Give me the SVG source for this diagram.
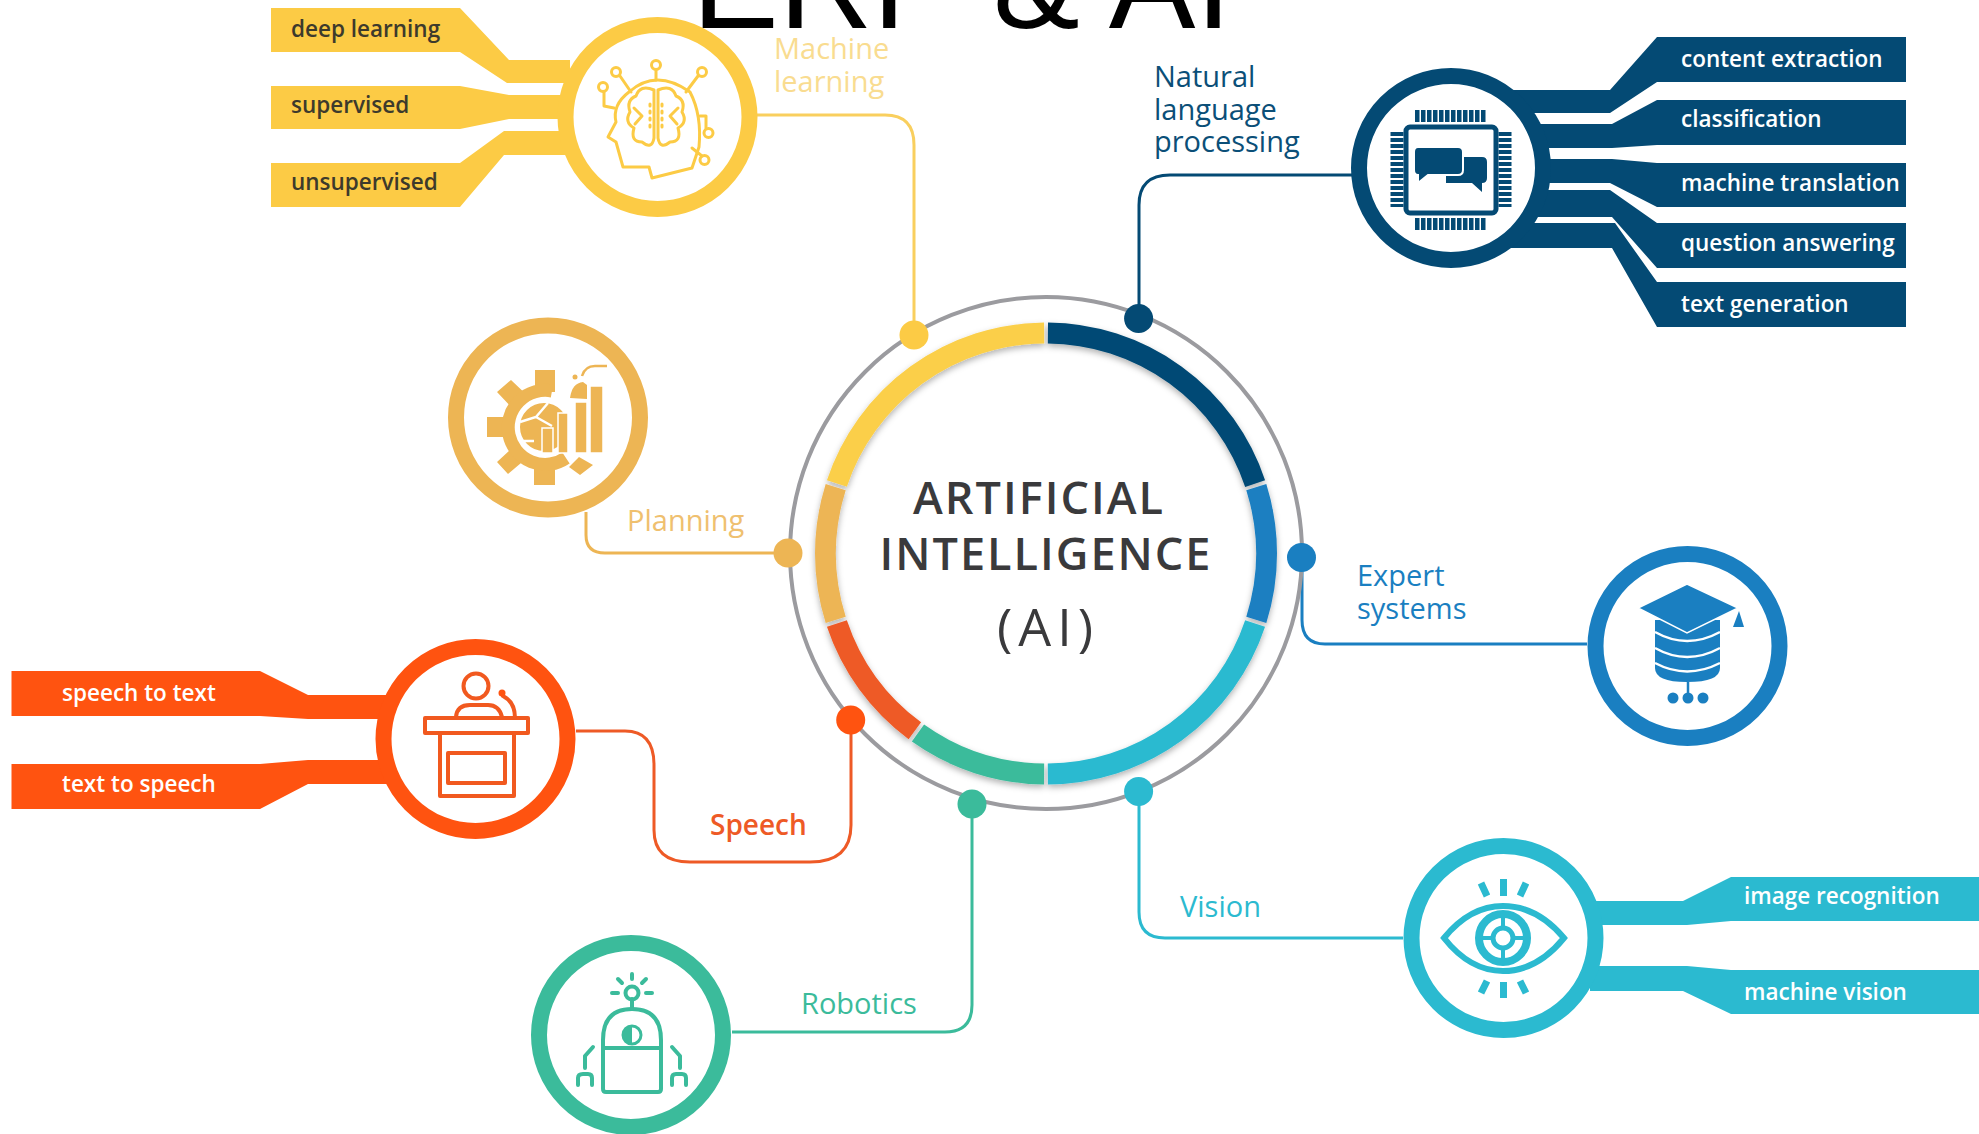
<svg xmlns="http://www.w3.org/2000/svg" width="1979" height="1134" viewBox="0 0 1979 1134">
<style>
text{font-family:"Open Sans","Liberation Sans",sans-serif}
.lbl{font-size:29px;font-weight:500}
.band{font-size:22.500px;font-weight:600;fill:#fff}
.dark{fill:#3d3a2c}
.conn{fill:none;stroke-width:3}
.ring{fill:#fff;stroke-width:16}
.seg{fill:none;stroke-width:21}
.ln{fill:none;stroke-linejoin:round;stroke-linecap:round}
.big{font-size:45px;font-weight:600;letter-spacing:2px;fill:#3a3a3c}
.y{fill:#fccb45}.n{fill:#044a74}.o{fill:#ff5310}.t{fill:#2bbad0}.g{fill:#3bbb9b}.b{fill:#1a7fc1}.p{fill:#edb554}
</style>
<defs>
<filter id="sh" x="-10%" y="-10%" width="120%" height="120%"><feDropShadow dx="0" dy="3" stdDeviation="3" flood-color="#000" flood-opacity=".3"/></filter>
</defs>
<rect width="1979" height="1134" fill="#fff"/>
<g id="connectors">
<path class="conn" stroke="#f9cf5e" d="M757 115H885Q914 115 914 145V335"/>
<path class="conn" stroke="#044a74" d="M1352 175H1170Q1139 175 1139 205V319"/>
<path class="conn" stroke="#edb554" d="M586 512V535Q586 553 605 553H788"/>
<path class="conn" stroke="#1a7fc1" d="M1587 644H1325Q1302 644 1302 620V557"/>
<path class="conn" stroke="#ee5a26" d="M576 731H625Q654 731 654 765V830Q654 862 690 862H810Q851 862 851 825V720"/>
<path class="conn" stroke="#3bbb9b" d="M732 1032H945Q972 1032 972 1005V804"/>
<path class="conn" stroke="#2bbad0" d="M1403 938H1165Q1139 938 1139 912V791"/>
</g>
<g id="center">
<circle cx="1046" cy="553" r="256" fill="none" stroke="#9b9b9f" stroke-width="4"/>
<g filter="url(#sh)">
<circle class="seg" cx="1046" cy="553.500" r="220.500" pathLength="360" stroke="#044a74" stroke-dasharray="71 289" transform="rotate(-89.500 1046 553.500)"/>
<circle class="seg" cx="1046" cy="553.500" r="220.500" pathLength="360" stroke="#1a7fc1" stroke-dasharray="35 325" transform="rotate(-17.500 1046 553.500)"/>
<circle class="seg" cx="1046" cy="553.500" r="220.500" pathLength="360" stroke="#2bbad0" stroke-dasharray="71 289" transform="rotate(18.500 1046 553.500)"/>
<circle class="seg" cx="1046" cy="553.500" r="220.500" pathLength="360" stroke="#3bbb9b" stroke-dasharray="35 325" transform="rotate(90.500 1046 553.500)"/>
<circle class="seg" cx="1046" cy="553.500" r="220.500" pathLength="360" stroke="#ee5a26" stroke-dasharray="35 325" transform="rotate(126.500 1046 553.500)"/>
<circle class="seg" cx="1046" cy="553.500" r="220.500" pathLength="360" stroke="#edb554" stroke-dasharray="35 325" transform="rotate(162.500 1046 553.500)"/>
<circle class="seg" cx="1046" cy="553.500" r="220.500" pathLength="360" stroke="#fbcf4a" stroke-dasharray="71 289" transform="rotate(198.500 1046 553.500)"/>
</g>
<text class="big" x="1039" y="514" text-anchor="middle">ARTIFICIAL</text>
<text class="big" x="1046" y="570" text-anchor="middle">INTELLIGENCE</text>
<text x="1048" y="646" text-anchor="middle" font-size="52" font-weight="400" letter-spacing="6" fill="#3a3a3c">(AI)</text>
<circle class="y" cx="914" cy="335" r="14.500"/>
<circle class="n" cx="1138.600" cy="318.600" r="14.500"/>
<circle class="p" cx="788" cy="553" r="14.500"/>
<circle class="b" cx="1301.500" cy="557.500" r="14.500"/>
<circle class="o" cx="850.700" cy="720" r="14.500"/>
<circle class="g" cx="972" cy="804" r="14.500"/>
<circle class="t" cx="1138.600" cy="791.400" r="14.500"/>
</g>
<g id="node-machine-learning">
<path class="y" d="M271 8H460L509 60H570V83H507L460 52H271Z"/>
<path class="y" d="M271 86H460L509 95H570V119H509L460 129H271Z"/>
<path class="y" d="M271 163H460L504 131H570V155H504L460 207H271Z"/>
<circle class="ring" cx="657.500" cy="117" r="92" stroke="#fccb45"/>
<g class="ln" stroke="#fccb45" stroke-width="3">
<path d="M629 92Q656 68 690 92Q702 115 699 147L692 168L652 178L649 167H623L616 142L608 137L616 122Q612 105 629 92"/>
<path d="M654 90Q640 84 636 96Q626 100 630 112Q624 122 634 128Q630 142 642 142Q652 150 654 138ZM658 90Q672 84 676 96Q686 100 682 112Q688 122 678 128Q682 142 670 142Q660 150 658 138Z"/>
<path d="M634 108L642 116L635 124M678 108L670 116L677 124"/>
<path d="M650 104V132M662 104V132" stroke-dasharray="2 5"/>
<path d="M656 70V80M620 76L631 92M698 76L686 92M604 92V106L614 108M700 116H706V128M692 148L702 156"/>
<circle cx="616" cy="72" r="4.500"/><circle cx="656" cy="65" r="4.500"/><circle cx="702" cy="72" r="4.500"/><circle cx="603" cy="87" r="4.500"/><circle cx="708.500" cy="133" r="4.500"/><circle cx="704.500" cy="160" r="4.500"/>
</g>
<text class="band dark" x="291" y="37">deep learning</text>
<text class="band dark" x="291" y="113">supervised</text>
<text class="band dark" x="291" y="190">unsupervised</text>
<text class="lbl" x="774" y="59" fill="#f9dc90">Machine</text>
<text class="lbl" x="774" y="92" fill="#f9dc90">learning</text>
</g>
<g id="node-nlp">
<path class="n" d="M1906 37H1657L1610 90H1500V113H1610L1657 82H1906Z"/>
<path class="n" d="M1906 100H1657L1612 124H1520V148H1612L1657 145H1906Z"/>
<path class="n" d="M1906 163H1657L1612 159H1520V183H1610L1657 207H1906Z"/>
<path class="n" d="M1906 223H1657L1610 190H1520V217H1612L1657 268H1906Z"/>
<path class="n" d="M1906 282H1657L1615 223H1500V248H1612L1657 327H1906Z"/>
<circle class="ring" cx="1451" cy="168" r="92" stroke="#044a74"/>
<rect x="1406" y="127" width="90" height="86" rx="4" fill="#fff" stroke="#044a74" stroke-width="5"/>
<path d="M1415 116H1487M1415 224H1487" stroke="#044a74" stroke-width="12" stroke-dasharray="4.500 1.500" fill="none"/>
<path d="M1397 132V207M1505 132V207" stroke="#044a74" stroke-width="13" stroke-dasharray="4 2" fill="none"/>
<path class="n" d="M1446 157H1482Q1487 157 1487 162V178Q1487 183 1482 183V192L1472 183H1446Z"/>
<path class="n" d="M1418 147H1458Q1463 147 1463 152V170Q1463 175 1458 175H1428L1418 183V175Q1414 175 1414 170V152Q1414 147 1418 147Z" stroke="#fff" stroke-width="2"/>
<text class="band" x="1681" y="67">content extraction</text>
<text class="band" x="1681" y="127">classification</text>
<text class="band" x="1681" y="191">machine translation</text>
<text class="band" x="1681" y="251">question answering</text>
<text class="band" x="1681" y="312">text generation</text>
<text class="lbl" x="1154" y="87" fill="#0b4f78">Natural</text>
<text class="lbl" x="1154" y="120" fill="#0b4f78">language</text>
<text class="lbl" x="1154" y="152" fill="#0b4f78">processing</text>
</g>
<g id="node-planning">
<circle class="ring" cx="548" cy="417.500" r="92" stroke="#edb554"/>
<path class="p" d="M535 370H555V392H535ZM487 417H508V437H487ZM497 392L511 380L530 398L516 412ZM497 462L510 450L521 463L508 474ZM534 468H555V485H534ZM569 467L579 457L593 465L580 475Z"/>
<path fill="none" stroke="#edb554" stroke-width="13" d="M552 391A37 37 0 1 0 566 458"/>
<circle cx="544" cy="427" r="25.500" fill="#edb554" stroke="#fff" stroke-width="3"/>
<path d="M520 422L536 417L548 403M521 441H534M536 417L552 426" fill="none" stroke="#fff" stroke-width="2.500"/>
<path class="p" d="M542 428H553V453H542ZM558 413H568V453H558ZM575 402H587V453H575ZM590 386H603V453H590Z" stroke="#fff" stroke-width="1.500"/>
<path class="p" d="M570 398Q572 383 583 382L587 385V399Z"/>
<circle class="p" cx="575" cy="377" r="2.500"/>
<path d="M582 376Q585 366 595 366H607" fill="none" stroke="#edb554" stroke-width="2.500"/>
<text class="lbl" x="627" y="531" fill="#efc06f">Planning</text>
</g>
<g id="node-expert-systems">
<circle class="ring" cx="1687.500" cy="646" r="92" stroke="#1a7fc1"/>
<path class="b" d="M1655 620H1720V668Q1720 682 1687 682Q1655 682 1655 668Z"/>
<path d="M1655 632Q1687 650 1720 632M1655 648Q1687 666 1720 648M1655 663Q1687 680 1720 663" fill="none" stroke="#fff" stroke-width="2.500"/>
<path class="b" d="M1638 608L1687 584L1738 608L1687 633Z" stroke="#fff" stroke-width="1.500"/>
<path class="b" d="M1733 627H1744L1739 611Z"/>
<path d="M1688 682V698" stroke="#1a7fc1" stroke-width="2.500"/>
<circle class="b" cx="1673" cy="698" r="5.500"/><circle class="b" cx="1688" cy="698" r="5.500"/><circle class="b" cx="1703" cy="698" r="5.500"/>
<text class="lbl" x="1357" y="586" fill="#1a7fc1">Expert</text>
<text class="lbl" x="1357" y="619" fill="#1a7fc1">systems</text>
</g>
<g id="node-speech">
<path class="o" d="M11.500 671H260L308 695H390V719H308L260 716H11.500Z"/>
<path class="o" d="M11.500 764H260L308 760H390V784H308L260 809H11.500Z"/>
<circle class="ring" cx="475.500" cy="739" r="92" stroke="#ff5310"/>
<g class="ln" stroke="#f1591f" stroke-width="4">
<circle cx="476" cy="686" r="12.500"/>
<path d="M456 717Q457 705 470 705H488Q499 705 502 717"/>
<rect x="425" y="718" width="103" height="15"/>
<rect x="440" y="733" width="74" height="63"/>
<rect x="448" y="753" width="57" height="30"/>
<path d="M503 696Q515 702 515 718"/>
</g>
<circle class="o" cx="502" cy="693" r="3.500"/>
<text class="band" x="62" y="701">speech to text</text>
<text class="band" x="62" y="792">text to speech</text>
<text class="lbl" x="710" y="835" style="font-size:28px;font-weight:600" fill="#ee5a26">Speech</text>
</g>
<g id="node-robotics">
<circle class="ring" cx="631" cy="1035" r="92" stroke="#3bbb9b"/>
<g class="ln" stroke="#3bbb9b" stroke-width="4">
<circle cx="632" cy="993" r="6.500"/>
<path d="M632 999V1009M632 974V979M618 979L622 983M646 979L642 983M612 993H618M646 993H652"/>
<path d="M603 1089V1040Q603 1009 632 1009Q661 1009 661 1040V1089Q661 1092 658 1092H606Q603 1092 603 1089ZM603 1048H661"/>
<circle cx="632" cy="1035" r="9" stroke-width="3"/>
<path d="M593 1047L585 1056V1068M672 1047L680 1056V1068"/>
<path d="M578 1085V1078Q578 1074 583 1074H588Q592 1074 592 1078V1085M672 1085V1078Q672 1074 676 1074H682Q686 1074 686 1078V1085"/>
</g>
<path class="g" d="M632 1026A9 9 0 0 0 632 1044Z"/>
<text class="lbl" x="801" y="1014" fill="#3bbb9b">Robotics</text>
</g>
<g id="node-vision">
<path class="t" d="M1979 877H1731L1683 901H1590V925H1687L1731 921H1979Z"/>
<path class="t" d="M1979 970H1731L1687 966H1590V991H1683L1731 1014H1979Z"/>
<circle class="ring" cx="1503.500" cy="938" r="92" stroke="#2bbad0"/>
<path d="M1444 938Q1470 906 1503 906Q1537 906 1564 938Q1537 971 1503 971Q1470 971 1444 938Z" fill="none" stroke="#2bbad0" stroke-width="6"/>
<circle cx="1503" cy="938" r="24" fill="#fff" stroke="#2bbad0" stroke-width="8"/>
<circle cx="1503" cy="938" r="10" fill="#fff" stroke="#2bbad0" stroke-width="5"/>
<path d="M1503 913V928M1503 948V963M1478 938H1493M1513 938H1528" stroke="#2bbad0" stroke-width="4"/>
<path d="M1503.500 879V896M1481 883L1487 896M1526 883L1520 896M1503.500 982V998M1481 993L1487 981M1526 993L1520 981" stroke="#2bbad0" stroke-width="7" fill="none"/>
<text class="band" x="1744" y="904">image recognition</text>
<text class="band" x="1744" y="1000">machine vision</text>
<text class="lbl" x="1180" y="917" fill="#2bbad0">Vision</text>
</g>
<text id="title" x="692" y="28" font-size="130" fill="#000" style="font-family:'Liberation Sans',sans-serif">ERP &amp; AI</text>
</svg>
